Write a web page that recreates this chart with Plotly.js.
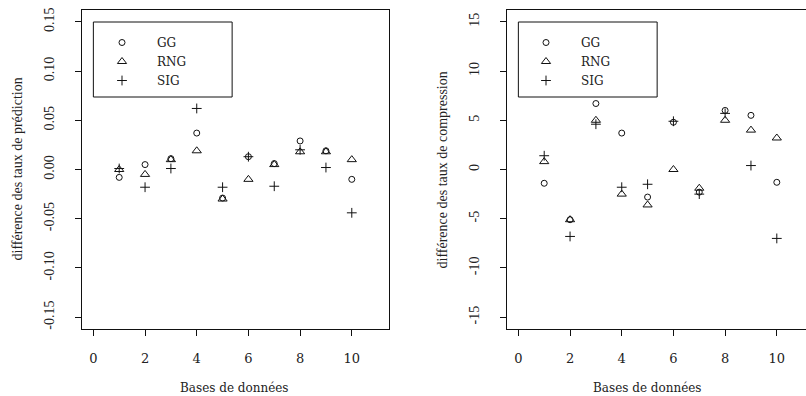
<!DOCTYPE html>
<html>
<head>
<meta charset="utf-8">
<script src="https://cdn.plot.ly/plotly-3.0.1.min.js"></script>
<style>html,body{margin:0;padding:0;background:#fff;}#chart{width:806px;height:396px;}</style>
</head>
<body>
<div id="chart"></div>
<script>
// Data
var bases = [1, 2, 3, 4, 5, 6, 7, 8, 9, 10];
var seriesNames = ["GG", "RNG", "SIG"];
var ggPred  = [-0.008, 0.005, 0.011, 0.037, -0.029, 0.013, 0.006, 0.029, 0.019, -0.010];
var rngPred = [0.000, -0.005, 0.010, 0.019, -0.030, -0.010, 0.005, 0.018, 0.018, 0.010];
var sigPred = [0.001, -0.018, 0.001, 0.062, -0.018, 0.013, -0.017, 0.020, 0.002, -0.044];
var ggComp  = [-1.4, -5.1, 6.7, 3.7, -2.8, 4.8, -2.3, 6.0, 5.5, -1.3];
var rngComp = [0.8, -5.1, 5.0, -2.5, -3.6, 0.0, -1.9, 5.0, 4.0, 3.2];
var sigComp = [1.4, -6.8, 4.6, -1.8, -1.5, 4.9, -2.5, 5.7, 0.4, -7.0];
var xTicks = [0, 2, 4, 6, 8, 10];
var yTicksPred = [-0.15, -0.10, -0.05, 0.00, 0.05, 0.10, 0.15];
var yTickTextPred = ["-0.15", "-0.10", "-0.05", "0.00", "0.05", "0.10", "0.15"];
var yTicksComp = [-15, -10, -5, 0, 5, 10, 15];
var yTickTextComp = ["-15", "-10", "-5", "0", "5", "10", "15"];
var xTitle = "Bases de données";
var yTitlePred = "différence des taux de prédiction";
var yTitleComp = "différence des taux de compression";

var symbols = ["circle-open", "triangle-up-open", "cross-thin-open"];
var sizes = [6, 8, 7];
var ink = "#111";

function mk(y, i, xa, ya, leg) {
  return {
    type: "scatter", mode: "markers", x: bases, y: y, name: seriesNames[i],
    xaxis: xa, yaxis: ya, legend: leg, showlegend: true,
    marker: {symbol: symbols[i], size: sizes[i], color: ink, line: {color: ink, width: 1}},
    hoverinfo: "skip"
  };
}
var traces = [
  mk(ggPred, 0, "x", "y", "legend"), mk(rngPred, 1, "x", "y", "legend"), mk(sigPred, 2, "x", "y", "legend"),
  mk(ggComp, 0, "x2", "y2", "legend2"), mk(rngComp, 1, "x2", "y2", "legend2"), mk(sigComp, 2, "x2", "y2", "legend2")
];

var W = 806, H = 396, mt = 10, mb = 67;
var ph = H - mt - mb;
function px2x(p) { return p / W; }
function py2y(p) { return (H - mb - p) / ph; }

var hFont = {family: "DejaVu Serif", size: 12, color: "#222"};
var xtFont = {family: "DejaVu Serif", size: 13, color: "#222"};
var vFont = {family: "Liberation Serif", size: 14, color: "#222"};

function xax(domain, range) {
  return {domain: domain, range: range, tickvals: xTicks, ticks: "outside", ticklen: 6, tickcolor: ink,
    showline: true, mirror: true, linecolor: ink, linewidth: 1, showgrid: false, zeroline: false,
    tickfont: xtFont, ticklabelstandoff: 11, fixedrange: true};
}
function yax(anchor, range, tv, tt, mirror) {
  return {anchor: anchor, domain: [0, 1], range: range, tickvals: tv, ticktext: tt, ticks: "outside", ticklen: 6,
    tickcolor: ink, showline: true, mirror: mirror, linecolor: ink, linewidth: 1, showgrid: false, zeroline: false,
    tickfont: vFont, tickangle: -90, ticklabelstandoff: 15, fixedrange: true};
}

var legBase = {xanchor: "left", yanchor: "top", bgcolor: "rgba(0,0,0,0)", borderwidth: 0,
  font: hFont, tracegroupgap: 0, itemwidth: 60, itemclick: false, itemdoubleclick: false};

var layout = {
  width: W, height: H, margin: {l: 0, r: 0, t: mt, b: mb, pad: 0},
  paper_bgcolor: "#fff", plot_bgcolor: "#fff",
  xaxis: xax([82 / W, 389 / W], [-0.44, 11.44]),
  yaxis: yax("x", [-0.162, 0.162], yTicksPred, yTickTextPred, true),
  xaxis2: Object.assign(xax([507 / W, 1], [-0.44, 11.13]), {anchor: "y2"}),
  yaxis2: yax("x2", [-16.2, 16.2], yTicksComp, yTickTextComp, false),
  legend: Object.assign({}, legBase, {x: px2x(87), y: py2y(28)}),
  legend2: Object.assign({}, legBase, {x: px2x(511), y: py2y(28)}),
  shapes: [
    {type: "rect", xref: "x", yref: "paper", x0: 0, x1: 5.37, y0: py2y(97), y1: py2y(22), line: {color: ink, width: 1}},
    {type: "rect", xref: "x2", yref: "paper", x0: 0, x1: 5.37, y0: py2y(97), y1: py2y(22), line: {color: ink, width: 1}}
  ],
  annotations: [
    {text: xTitle, xref: "paper", yref: "paper", x: px2x(235), y: py2y(388), xanchor: "center", yanchor: "middle", showarrow: false, font: hFont},
    {text: xTitle, xref: "paper", yref: "paper", x: px2x(647), y: py2y(388), xanchor: "center", yanchor: "middle", showarrow: false, font: hFont},
    {text: yTitlePred, xref: "paper", yref: "paper", x: px2x(17), y: 0.5, xanchor: "center", yanchor: "middle", textangle: -90, showarrow: false, font: vFont},
    {text: yTitleComp, xref: "paper", yref: "paper", x: px2x(442), y: 0.5, xanchor: "center", yanchor: "middle", textangle: -90, showarrow: false, font: vFont}
  ]
};

Plotly.newPlot("chart", traces, layout, {displayModeBar: false, staticPlot: true});
</script>
</body>
</html>
